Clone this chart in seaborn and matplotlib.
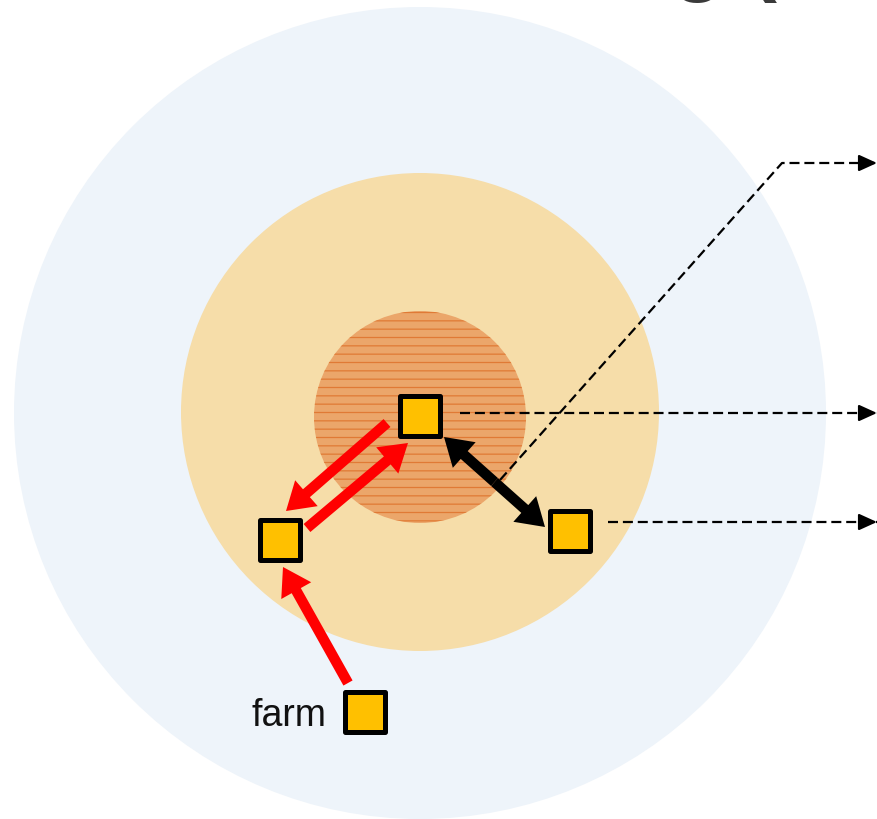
import matplotlib.pyplot as plt
import seaborn as sns
import pandas as pd
from matplotlib.patches import Circle, FancyArrowPatch

# rings of the diagram (centre x, centre y, radius) in pixel units
ring_x = [420, 420, 420]
ring_y = [413, 412, 417]
ring_r = [406, 239, 106]
ring_colors = ["#EEF4FA", "#F6DDA9", "#EBA66A"]

# nodes (squares)
node_names = ["hub", "mid", "right", "farm"]
node_x = [420, 280, 570, 365]
node_y = [416, 540, 531, 712]

# red flows (from -> to)
red_from = [(387, 423), (307, 528), (348, 683)]
red_to = [(286, 511), (408, 443), (283, 567)]

# black two-way link
link_a = (444, 437)
link_b = (545, 527)

# dashed pointers
pointer_paths = [
    [(460, 413), (877, 413)],
    [(608, 522), (877, 522)],
    [(500, 480), (782, 163), (877, 163)],
]

sns.set_style("white")
plt.rcParams["hatch.linewidth"] = 0.9

fig = plt.figure(figsize=(8.77, 8.19), dpi=100)
ax = fig.add_axes([0, 0, 1, 1])

for i, (cx, cy, r) in enumerate(zip(ring_x, ring_y, ring_r)):
    if i == 2:
        c = Circle((cx, cy), r, facecolor=ring_colors[i], edgecolor="#E07A35",
                   hatch="--", lw=0, zorder=1 + i)
    else:
        c = Circle((cx, cy), r, facecolor=ring_colors[i], lw=0, zorder=1 + i)
    ax.add_patch(c)

# dashed pointers with solid heads
for path in pointer_paths:
    xs = [p[0] for p in path]
    ys = [p[1] for p in path]
    ax.plot(xs, ys, color="black", lw=1.6, ls=(0, (4.5, 2.2)), zorder=5)
    ax.annotate("", xy=path[-1], xytext=(path[-1][0] - 18, path[-1][1]),
                arrowprops=dict(arrowstyle="-|>,head_length=1.1,head_width=0.5",
                                color="black", lw=1.6, shrinkA=0, shrinkB=0),
                zorder=6)

arrow_style = "simple,head_length=1.5,head_width=1.9,tail_width=0.58"
for a, b in zip(red_from, red_to):
    ax.add_patch(FancyArrowPatch(a, b, arrowstyle=arrow_style, mutation_scale=13,
                                 color="#FF0000", lw=0, shrinkA=0, shrinkB=0, zorder=7))

mid = ((link_a[0] + link_b[0]) / 2, (link_a[1] + link_b[1]) / 2)
for end in (link_a, link_b):
    ax.add_patch(FancyArrowPatch(mid, end, arrowstyle=arrow_style, mutation_scale=13,
                                 color="black", lw=0, shrinkA=0, shrinkB=0, zorder=7))

nodes = pd.DataFrame({"name": node_names, "x": node_x, "y": node_y})
sns.scatterplot(data=nodes, x="x", y="y", marker="s", s=830, color="#FFC000",
                edgecolor="black", linewidth=3.6, ax=ax, zorder=8, legend=False)
ax.set_xlim(0, 877)
ax.set_ylim(819, 0)
ax.axis("off")

ax.text(327, 716, "farm", fontsize=27, ha="right", va="center", color="#111111",
        family=["Liberation Sans Narrow", "Liberation Sans", "DejaVu Sans"], zorder=9)

# cut-off title fragment at the top edge
ax.text(672, -15, "g (", fontsize=62, fontweight="bold", color="#3A3A3A",
        ha="left", va="baseline", family=["Liberation Sans", "DejaVu Sans"], zorder=9)

fig.savefig("out.png", dpi=100)
